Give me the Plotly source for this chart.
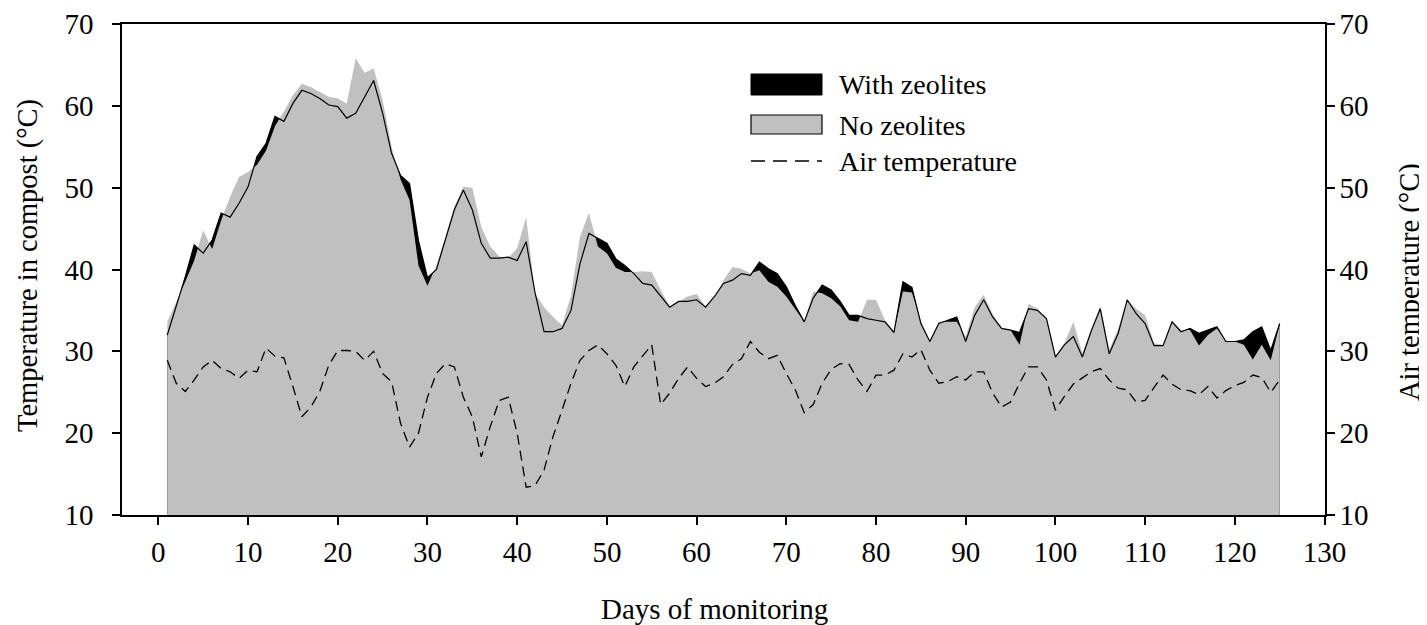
import plotly.graph_objects as go

days = list(range(1, 126))

with_zeolites = [
    32.0, 35.4, 39.1, 43.0, 42.0, 43.6, 46.9, 46.4, 48.1, 50.1,
    53.8, 55.4, 58.7, 58.1, 60.3, 61.9, 61.5, 60.9, 60.1, 59.9,
    58.5, 59.1, 61.1, 63.1, 59.1, 54.2, 51.5, 50.5, 43.5, 39.0,
    40.0, 43.5, 47.3, 49.7, 47.3, 43.2, 41.4, 41.4, 41.5, 41.1,
    43.4, 37.1, 32.4, 32.4, 32.8, 35.0, 40.7, 44.4, 43.8, 43.2,
    41.3, 40.5, 39.5, 38.3, 38.1, 36.7, 35.4, 36.1, 36.1, 36.3,
    35.4, 36.7, 38.3, 38.7, 39.5, 39.3, 40.9, 40.1, 39.5, 37.9,
    35.6, 33.6, 36.5, 38.1, 37.5, 36.1, 34.4, 34.4, 34.0, 33.8,
    33.6, 32.3, 38.5, 37.8, 33.4, 31.2, 33.4, 33.8, 34.2, 31.2,
    34.4, 36.3, 34.2, 32.8, 32.6, 32.3, 35.2, 35.0, 34.0, 29.3,
    30.8, 31.8, 29.3, 32.5, 35.2, 29.7, 32.2, 36.3, 34.6, 33.4,
    30.7, 30.7, 33.6, 32.4, 32.8, 32.2, 32.6, 33.0, 31.2, 31.2,
    31.4, 32.4, 33.0, 30.1, 33.4,
]

no_zeolites = [
    33.6, 36.0, 38.5, 41.1, 44.8, 42.5, 46.0, 48.9, 51.3, 51.9,
    52.8, 54.5, 57.5, 59.3, 61.3, 62.7, 62.3, 61.7, 61.1, 60.9,
    60.3, 65.8, 64.0, 64.6, 60.7, 55.0, 51.0, 48.5, 40.5, 38.0,
    40.5, 44.0, 47.7, 50.1, 50.0, 45.2, 42.8, 41.6, 41.4, 42.6,
    46.4, 37.1, 35.4, 34.2, 33.2, 36.8, 44.0, 46.9, 42.8, 42.0,
    40.2, 39.7, 39.7, 39.8, 39.7, 37.5, 35.5, 36.1, 36.7, 37.0,
    35.5, 36.7, 38.7, 40.3, 40.1, 39.5, 39.9, 38.5, 37.9, 36.7,
    35.2, 33.6, 37.3, 37.1, 36.5, 35.5, 33.8, 33.6, 36.3, 36.3,
    33.8, 32.3, 37.3, 37.2, 33.8, 31.2, 33.6, 33.6, 33.6, 31.8,
    35.4, 36.9, 34.6, 32.8, 32.6, 30.8, 35.8, 35.2, 34.0, 29.3,
    31.0, 33.6, 29.8, 32.8, 35.6, 30.2, 32.8, 36.3, 35.2, 34.4,
    31.0, 30.8, 33.8, 32.6, 32.6, 30.7, 32.0, 32.8, 31.2, 31.2,
    30.8, 29.0, 30.8, 28.9, 33.3,
]

air_temperature = [
    28.9, 26.1, 25.1, 26.5, 28.1, 28.9, 27.9, 27.5, 26.7, 27.7,
    27.5, 30.4, 29.4, 29.2, 25.7, 22.0, 23.2, 25.1, 28.3, 30.1,
    30.1, 30.0, 28.9, 30.0, 27.3, 26.3, 21.2, 18.3, 20.0, 24.4,
    27.3, 28.5, 28.1, 24.4, 22.0, 17.1, 20.8, 24.0, 24.4, 20.0,
    13.4, 13.6, 15.5, 19.6, 22.8, 26.1, 28.9, 30.1, 30.8, 29.7,
    28.3, 25.7, 28.1, 29.5, 30.8, 23.5, 24.9, 26.7, 28.1, 26.7,
    25.7, 26.1, 26.9, 28.4, 29.1, 31.2, 29.9, 29.1, 29.5, 27.3,
    25.3, 22.5, 23.5, 26.1, 27.8, 28.5, 28.4, 26.5, 25.1, 27.1,
    27.1, 27.7, 29.7, 29.3, 30.2, 27.7, 26.1, 26.3, 26.9, 26.5,
    27.5, 27.5, 24.9, 23.2, 23.8, 26.1, 28.1, 28.1, 26.5, 22.8,
    24.5, 26.0, 26.7, 27.5, 27.9, 26.5, 25.5, 25.3, 23.8, 24.0,
    25.6, 27.1, 26.0, 25.3, 25.2, 24.7, 25.7, 24.3, 25.2, 25.8,
    26.2, 27.1, 26.8, 25.0, 26.5,
]

x_ticks = list(range(0, 131, 10))
y_ticks = list(range(10, 71, 10))

FONT = "Liberation Serif, Times New Roman, serif"
GRAY = "#C0C0C0"

fig = go.Figure()

fig.add_trace(go.Scatter(
    x=days, y=with_zeolites, name="With zeolites", mode="lines",
    line=dict(color="black", width=0), fill="tozeroy", fillcolor="black",
    showlegend=False, hoverinfo="skip"))
fig.add_trace(go.Scatter(
    x=days, y=no_zeolites, name="No zeolites", mode="lines",
    line=dict(color=GRAY, width=0), fill="tozeroy", fillcolor=GRAY,
    showlegend=False, hoverinfo="skip"))
fig.add_trace(go.Scatter(
    x=days, y=with_zeolites, mode="lines",
    line=dict(color="black", width=1.2), showlegend=False, hoverinfo="skip"))
fig.add_trace(go.Scatter(
    x=days, y=air_temperature, name="Air temperature", mode="lines",
    line=dict(color="black", width=1.3, dash="10px,6px"),
    showlegend=False, yaxis="y2"))

# page offset from default body margin
OFF = 8
W, H = 1427 - OFF, 625 - OFF
L, R, T, B = 122 - OFF, 1325 - OFF, 24 - OFF, 515 - OFF
pw, ph = R - L, B - T

def px(x):
    return (x - OFF - L) / pw

def py(y):
    return (B - (y - OFF)) / ph

axis_common = dict(
    showgrid=False, zeroline=False, showline=True, linecolor="black",
    linewidth=1.5, ticks="outside", ticklen=8, tickwidth=1.5,
    tickcolor="black", tickfont=dict(family=FONT, size=29, color="black"),
    automargin=False,
)

fig.update_layout(
    width=W, height=H, autosize=False,
    margin=dict(l=L, r=W - R, t=T, b=H - B, pad=0),
    paper_bgcolor="white", plot_bgcolor="white",
    xaxis=dict(range=[-4.05, 130.05], tickvals=x_ticks, mirror=True,
               ticklabelstandoff=2, **axis_common),
    yaxis=dict(range=[10, 70], tickvals=y_ticks, ticklabelstandoff=13,
               **axis_common),
    yaxis2=dict(range=[10, 70], tickvals=y_ticks, overlaying="y",
                side="right", ticklabelstandoff=-1, **axis_common),
    showlegend=False,
)

shapes = [
    dict(type="rect", xref="paper", yref="paper", x0=px(751), x1=px(822),
         y0=py(95), y1=py(74), fillcolor="black", line=dict(color="black", width=1)),
    dict(type="rect", xref="paper", yref="paper", x0=px(751), x1=px(822),
         y0=py(134), y1=py(115), fillcolor=GRAY, line=dict(color="black", width=1.2)),
    dict(type="line", xref="paper", yref="paper", x0=px(751), x1=px(822),
         y0=py(161), y1=py(161), line=dict(color="black", width=1.3, dash="14px,8px")),
]
fig.update_layout(shapes=shapes)

annotations = [
    dict(text="With zeolites", x=px(837), y=py(84), xanchor="left", yanchor="middle", size=28),
    dict(text="No zeolites", x=px(837), y=py(125), xanchor="left", yanchor="middle", size=28),
    dict(text="Air temperature", x=px(837), y=py(161), xanchor="left", yanchor="middle", size=28),
    dict(text="Temperature in compost (°C)", x=px(28), y=py(266), textangle=-90,
         xanchor="center", yanchor="middle", size=28.5),
    dict(text="Air temperature (°C)", x=px(1410), y=py(282), textangle=-90,
         xanchor="center", yanchor="middle", size=28.5),
    dict(text="Days of monitoring", x=px(714), y=py(609), xanchor="center",
         yanchor="middle", size=29),
]
for a in annotations:
    size = a.pop("size")
    a.update(xref="paper", yref="paper", showarrow=False,
             font=dict(family=FONT, size=size, color="black"))
fig.update_layout(annotations=annotations)

fig.write_html("out.html")
